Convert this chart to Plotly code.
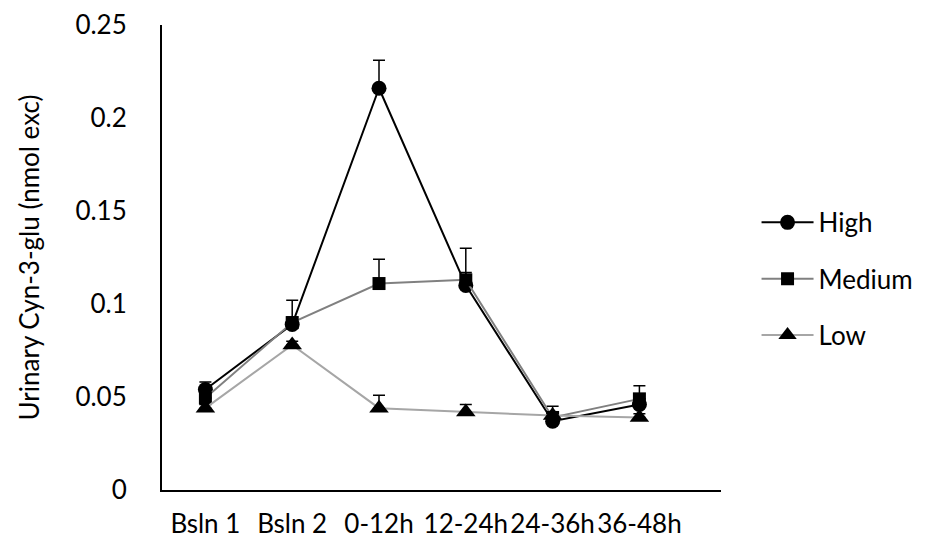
import plotly.graph_objects as go

categories = ["Bsln 1", "Bsln 2", "0-12h", "12-24h", "24-36h", "36-48h"]
high = [0.054, 0.089, 0.216, 0.110, 0.037, 0.046]
high_err = [0.004, 0.013, 0.015, 0.020, 0.005, 0.003]
medium = [0.0495, 0.090, 0.111, 0.113, 0.039, 0.049]
medium_err = [0.003, 0.003, 0.013, 0.004, 0.006, 0.007]
low = [0.044, 0.078, 0.044, 0.042, 0.040, 0.039]
low_err = [0.002, 0.002, 0.007, 0.004, 0.002, 0.002]
y_ticks = [0, 0.05, 0.1, 0.15, 0.2, 0.25]
y_ticktext = ["0", "0.05", "0.1", "0.15", "0.2", "0.25"]

FONT = "Lato"
FS = 26

series = [
    ("High", high, high_err, "#000000", "circle", 15),
    ("Medium", medium, medium_err, "#808080", "square", 13),
    ("Low", low, low_err, "#A6A6A6", "triangle-up", 17),
]

fig = go.Figure()
for name, vals, err, col, sym, sz in series:
    fig.add_trace(go.Scatter(
        x=categories, y=vals, name=name, mode="lines+markers",
        legendgroup=name,
        line=dict(color=col, width=2),
        marker=dict(symbol=sym, size=sz, color="black"),
        error_y=dict(type="data", array=err, arrayminus=[0] * len(err),
                     symmetric=False, color="black", thickness=1.5, width=6),
    ))

fig.update_layout(
    width=934, height=545,
    margin=dict(l=162, r=213, t=25, b=55),
    paper_bgcolor="white", plot_bgcolor="white",
    font=dict(family=FONT, size=FS, color="black"),
    showlegend=True,
    legend=dict(
        xref="container", yref="container", x=0.81, y=0.635,
        xanchor="left", yanchor="top",
        traceorder="grouped", tracegroupgap=19.5,
        itemwidth=52, font=dict(size=FS, family=FONT),
        bgcolor="rgba(0,0,0,0)",
    ),
    xaxis=dict(
        type="category", range=[-0.5, 5.94], automargin=False,
        showline=True, linecolor="black", linewidth=2,
        showgrid=False, zeroline=False, ticks="",
        ticklabelstandoff=10,
        tickfont=dict(size=FS, family=FONT),
    ),
    yaxis=dict(
        range=[0, 0.25], tickvals=y_ticks, ticktext=y_ticktext,
        automargin=False,
        showline=True, linecolor="black", linewidth=2,
        showgrid=False, zeroline=False, ticks="",
        ticklabelstandoff=28,
        tickfont=dict(size=FS, family=FONT),
        title=dict(text="Urinary Cyn-3-glu (nmol exc)", standoff=28,
                   font=dict(size=FS, family=FONT)),
    ),
)

fig.write_html("out.html")
